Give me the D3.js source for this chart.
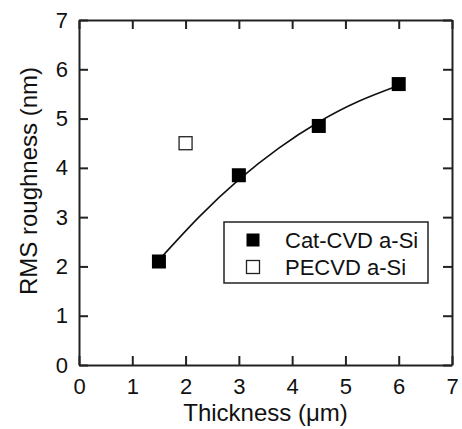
<!DOCTYPE html>
<html>
<head>
<meta charset="utf-8">
<script src="https://cdn.jsdelivr.net/npm/d3@7"></script>
<style>
  body { margin: 0; background: #fff; }
  text { font-family: "Liberation Sans", Arial, Helvetica, sans-serif; fill: #111; }
</style>
</head>
<body>
<svg width="462" height="429"></svg>
<script>
// Cat-CVD a-Si
let catThick = [1.5, 3.0, 4.5, 6.0]
let catRms = [2.1, 3.85, 4.85, 5.7]
// PECVD a-Si
let peThick = [2.0]
let peRms = [4.5]
// fit curve
let fitThick = [1.5, 2.25, 3.0, 3.75, 4.5, 5.25, 6.0]
let fitRms = [2.13, 3.0, 3.76, 4.4, 4.93, 5.35, 5.67]
let xTicks = [0, 1, 2, 3, 4, 5, 6, 7]
let yTicks = [0, 1, 2, 3, 4, 5, 6, 7]
let legendNames = ['Cat-CVD a-Si', 'PECVD a-Si']

let svg = d3.select('svg')
let pLeft = 79, pTop = 20, pRight = 452, pBottom = 365

let x = d3.scaleLinear().domain([0, 7]).range([pLeft, pRight])
let y = d3.scaleLinear().domain([0, 7]).range([pBottom, pTop])

// 坐标框
let axisColor = '#222'
let tickLen = 9
let fmt = d3.format('d')
svg.append('g')
  .attr('transform', 'translate(0,' + pBottom + ')')
  .call(d3.axisBottom(x).tickValues(xTicks).tickFormat(fmt).tickSizeInner(-tickLen).tickSizeOuter(0).tickPadding(13))
svg.append('g')
  .attr('transform', 'translate(0,' + pTop + ')')
  .call(d3.axisTop(x).tickValues(xTicks).tickSizeInner(-tickLen).tickSizeOuter(0).tickFormat(''))
svg.append('g')
  .attr('transform', 'translate(' + pLeft + ',0)')
  .call(d3.axisLeft(y).tickValues(yTicks).tickFormat(fmt).tickSizeInner(-tickLen).tickSizeOuter(0).tickPadding(11))
svg.append('g')
  .attr('transform', 'translate(' + pRight + ',0)')
  .call(d3.axisRight(y).tickValues(yTicks).tickSizeInner(-tickLen).tickSizeOuter(0).tickFormat(''))

svg.selectAll('.domain, .tick line')
  .attr('stroke', axisColor)
  .attr('stroke-width', 2)
svg.selectAll('.tick text')
  .attr('font-size', 22)
  .attr('fill', '#111')
  .style('font-family', '"Liberation Sans", Arial, sans-serif')

// 轴标题
svg.append('text')
  .attr('x', (pLeft + pRight) / 2)
  .attr('y', 421)
  .attr('text-anchor', 'middle')
  .attr('font-size', 24)
  .text('Thickness (\u03bcm)')
svg.append('text')
  .attr('transform', 'translate(37,' + 181 + ') rotate(-90)')
  .attr('text-anchor', 'middle')
  .attr('font-size', 24)
  .text('RMS roughness (nm)')

// 拟合曲线
let line = d3.line()
  .x(function (d, i) { return x(fitThick[i]) })
  .y(function (d) { return y(d) })
  .curve(d3.curveNatural)
svg.append('path')
  .datum(fitRms)
  .attr('d', line)
  .attr('fill', 'none')
  .attr('stroke', '#111')
  .attr('stroke-width', 1.6)

let s = 14
svg.selectAll('.cat')
  .data(catRms)
  .enter()
  .append('rect')
  .attr('class', 'cat')
  .attr('x', function (d, i) { return x(catThick[i]) - s / 2 })
  .attr('y', function (d) { return y(d) - s / 2 })
  .attr('width', s)
  .attr('height', s)
  .attr('fill', '#000')

svg.selectAll('.pe')
  .data(peRms)
  .enter()
  .append('rect')
  .attr('class', 'pe')
  .attr('x', function (d, i) { return x(peThick[i]) - (s - 1) / 2 })
  .attr('y', function (d) { return y(d) - (s - 1) / 2 })
  .attr('width', s - 1)
  .attr('height', s - 1)
  .attr('fill', '#fff')
  .attr('stroke', '#222')
  .attr('stroke-width', 1.3)

// 图例
let lg = svg.append('g').attr('transform', 'translate(224,222)')
lg.append('rect')
  .attr('width', 204)
  .attr('height', 61)
  .attr('fill', '#fff')
  .attr('stroke', '#222')
  .attr('stroke-width', 1.5)
let ls = 13
legendNames.forEach(function (name, i) {
  let cy = 18 + i * 27
  lg.append('rect')
    .attr('x', 29 - ls / 2)
    .attr('y', cy - ls / 2)
    .attr('width', ls)
    .attr('height', ls)
    .attr('fill', i === 0 ? '#000' : '#fff')
    .attr('stroke', i === 0 ? 'none' : '#222')
    .attr('stroke-width', 1.3)
  lg.append('text')
    .attr('x', 61)
    .attr('y', cy + 8)
    .attr('font-size', 22)
    .text(name)
})
</script>
</body>
</html>
